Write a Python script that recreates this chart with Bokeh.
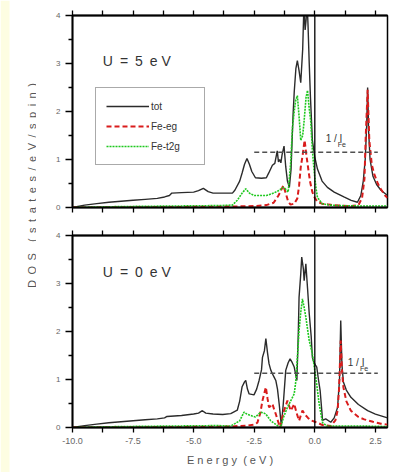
from math import pi
from bokeh.plotting import figure
from bokeh.models import (Range1d, FixedTicker, LinearAxis, Label, Legend, LegendItem,
                          NumeralTickFormatter, Span, BoxAnnotation)
from bokeh.layouts import row, column
from bokeh.embed import file_html
from bokeh.resources import INLINE

FONT = "Liberation Sans"
NB = "\u00a0"
EN = "\u2002"

# ---------------- data ----------------
x_major_ticks = [-10.0, -7.5, -5.0, -2.5, 0.0, 2.5]
x_minor_ticks = [-8.75, -6.25, -3.75, -1.25, 1.25]
y_major_ticks = [0, 1, 2, 3, 4]
y_minor_ticks = [0.5, 1.5, 2.5, 3.5]

fermi_level = 0.0

# U = 5 eV panel
u5_tot_e = [-10, -9.5, -9, -8.5, -8, -7.5, -7, -6.5, -6.2, -6.0, -5.9, -5.5, -5.0, -4.8, -4.6,
            -4.4, -4.2, -3.8, -3.4, -3.3, -3.1, -3.0, -2.9, -2.8, -2.7, -2.6, -2.45, -2.2, -2.0,
            -1.9, -1.75, -1.65, -1.55, -1.5, -1.45, -1.4, -1.35, -1.27, -1.2, -1.13, -1.05,
            -0.98, -0.9, -0.85, -0.78, -0.72, -0.65, -0.58, -0.5, -0.45, -0.4, -0.36, -0.32,
            -0.28, -0.23, -0.18, -0.1, 0.0, 0.11, 0.3, 0.52, 0.8, 1.2, 1.5, 1.76, 1.9, 2.0,
            2.08, 2.14, 2.18, 2.22, 2.28, 2.4, 2.55, 2.73, 3.0]
u5_tot_d = [0.0, 0.05, 0.08, 0.11, 0.13, 0.15, 0.17, 0.19, 0.22, 0.25, 0.30, 0.31, 0.32, 0.35,
            0.40, 0.33, 0.30, 0.30, 0.30, 0.36, 0.55, 0.72, 0.90, 1.02, 0.90, 0.75, 0.62, 0.61,
            0.62, 0.72, 0.88, 0.92, 1.18, 0.95, 1.0, 0.93, 1.1, 1.28, 0.85, 0.55, 0.42, 0.80,
            1.9, 2.4, 2.9, 3.06, 2.85, 2.6, 3.3, 4.2, 3.7, 3.9, 4.3, 3.8, 3.0, 2.3, 1.4, 1.05,
            0.8, 0.55, 0.42, 0.32, 0.22, 0.15, 0.11, 0.25, 0.55, 1.0, 1.7, 2.5, 1.6, 1.0, 0.65,
            0.48, 0.36, 0.25]

u5_eg_e = [-10, -6, -3.4, -2.5, -2.0, -1.7, -1.5, -1.4, -1.3, -1.2, -1.1, -1.0, -0.85, -0.72,
           -0.65, -0.58, -0.5, -0.42, -0.35, -0.28, -0.2, -0.1, 0.0, 0.11, 0.3, 0.6, 1.0, 1.5,
           1.8, 1.95, 2.05, 2.1, 2.18, 2.25, 2.35, 2.45, 2.6, 2.73, 2.9, 3.0]
u5_eg_d = [0.0, 0.01, 0.02, 0.03, 0.05, 0.1, 0.25, 0.35, 0.46, 0.3, 0.12, 0.06, 0.08, 0.19,
           0.45, 0.84, 1.1, 1.40, 1.1, 0.84, 0.55, 0.32, 0.2, 0.12, 0.08, 0.06, 0.04, 0.03,
           0.05, 0.2, 0.6, 1.46, 2.45, 1.4, 0.9, 0.70, 0.5, 0.38, 0.25, 0.2]

u5_t2g_e = [-10, -8, -6, -4, -3.4, -3.2, -3.0, -2.85, -2.7, -2.5, -2.0, -1.7, -1.5, -1.3, -1.2,
            -1.1, -1.0, -0.92, -0.85, -0.79, -0.72, -0.65, -0.58, -0.5, -0.44, -0.36, -0.3,
            -0.24, -0.17, -0.1, -0.03, 0.05, 0.11, 0.3, 0.6, 1.0, 2.0, 3.0]
u5_t2g_d = [0.0, 0.02, 0.03, 0.04, 0.05, 0.15, 0.30, 0.39, 0.30, 0.25, 0.25, 0.3, 0.35, 0.42,
            0.38, 0.32, 0.9, 1.67, 2.0, 2.23, 2.33, 1.9, 1.40, 1.5, 1.81, 2.3, 2.44, 2.1, 1.81,
            1.2, 0.77, 0.4, 0.21, 0.08, 0.05, 0.04, 0.03, 0.03]

# U = 0 eV panel
u0_tot_e = [-10, -9.5, -9, -8.5, -8, -7.5, -7, -6.5, -6.2, -6.1, -5.5, -5.0, -4.8, -4.64, -4.5,
            -4.2, -3.8, -3.47, -3.2, -3.1, -3.0, -2.9, -2.85, -2.78, -2.71, -2.51, -2.4, -2.3,
            -2.2, -2.16, -2.08, -2.02, -1.95, -1.89, -1.82, -1.75, -1.68, -1.61, -1.54, -1.47,
            -1.38, -1.3, -1.2, -1.1, -1.02, -0.93, -0.85, -0.74, -0.68, -0.65, -0.58, -0.54,
            -0.47, -0.44, -0.4, -0.37, -0.3, -0.23, -0.15, -0.1, -0.03, 0.03, 0.08, 0.15, 0.22,
            0.32, 0.45, 0.66, 0.8, 0.94, 1.02, 1.07, 1.12, 1.18, 1.3, 1.49, 1.8, 2.18, 2.5, 3.0]
u0_tot_d = [0.0, 0.04, 0.07, 0.10, 0.12, 0.14, 0.16, 0.18, 0.20, 0.23, 0.25, 0.28, 0.30, 0.35,
            0.30, 0.28, 0.27, 0.29, 0.36, 0.55, 0.85, 0.95, 0.98, 0.80, 0.70, 0.68, 0.80, 0.98,
            1.2, 1.46, 1.6, 1.85, 1.55, 1.33, 1.2, 1.12, 1.05, 0.98, 0.8, 0.49, 0.03, 0.5, 1.19,
            1.35, 1.43, 1.35, 1.26, 0.98, 2.0, 2.71, 3.2, 3.55, 3.3, 3.06, 3.25, 3.41, 2.9, 2.37,
            1.9, 1.46, 1.35, 1.3, 1.26, 1.0, 0.77, 0.15, 0.18, 0.11, 0.2, 0.42, 1.0, 2.23, 1.3,
            0.95, 0.78, 0.63, 0.48, 0.35, 0.28, 0.2]

u0_eg_e = [-10, -6, -3.5, -2.8, -2.5, -2.37, -2.25, -2.16, -2.02, -1.95, -1.89, -1.82, -1.75,
           -1.68, -1.61, -1.5, -1.43, -1.35, -1.27, -1.2, -1.13, -1.06, -0.99, -0.92, -0.85,
           -0.75, -0.65, -0.58, -0.51, -0.44, -0.37, -0.28, -0.17, 0.0, 0.11, 0.32, 0.66, 0.85,
           0.94, 1.0, 1.07, 1.12, 1.18, 1.3, 1.49, 1.8, 2.04, 2.4, 2.73, 3.0]
u0_eg_d = [0.0, 0.01, 0.02, 0.04, 0.06, 0.1, 0.3, 0.56, 0.84, 0.6, 0.42, 0.45, 0.49, 0.38, 0.28,
           0.1, 0.0, 0.2, 0.35, 0.45, 0.56, 0.45, 0.35, 0.42, 0.49, 0.3, 0.14, 0.25, 0.35, 0.3,
           0.25, 0.2, 0.15, 0.12, 0.1, 0.05, 0.03, 0.15, 0.35, 0.8, 1.81, 1.2, 0.84, 0.55, 0.35,
           0.22, 0.17, 0.12, 0.08, 0.06]

u0_t2g_e = [-10, -8, -6, -4, -3.47, -3.3, -3.1, -2.92, -2.8, -2.65, -2.45, -2.23, -2.1, -2.02,
            -1.82, -1.6, -1.41, -1.3, -1.13, -0.99, -0.85, -0.78, -0.7, -0.65, -0.58, -0.51,
            -0.44, -0.37, -0.3, -0.23, -0.1, 0.04, 0.18, 0.32, 0.5, 1.0, 2.0, 3.0]
u0_t2g_d = [0.0, 0.02, 0.03, 0.04, 0.03, 0.08, 0.14, 0.32, 0.28, 0.25, 0.22, 0.32, 0.3, 0.28,
            0.14, 0.06, 0.0, 0.2, 0.42, 0.56, 0.7, 0.98, 1.6, 2.02, 2.4, 2.68, 2.5, 2.3, 2.05,
            1.81, 1.53, 1.05, 0.49, 0.1, 0.03, 0.03, 0.03, 0.02]

stoner_span = [-2.5, 2.6]
stoner_u5 = 1.15
stoner_u0 = 1.13

panel_titles = ["U" + EN + "=" + EN + "5" + EN + "e" + NB + "V",
                "U" + EN + "=" + EN + "0" + EN + "e" + NB + "V"]
legend_labels = ["tot", "Fe-eg", "Fe-t2g"]
x_title = NB.join("Energy") + NB + NB + NB.join("(eV)")
y_title = EN.join("DOS") + EN + EN + EN.join("(states/eV/spin)")

TOT_COLOR = "#2b2b2b"
EG_COLOR = "#d91c1c"
T2G_COLOR = "#1ec81e"


def make_panel(title, tot_e, tot_d, eg_e, eg_d, t2_e, t2_d, stoner, title_y, st_x, st_y,
               height, mb_top, mb_bottom, bottom_labels, with_legend):
    p = figure(width=358, height=height, x_range=Range1d(-10, 3), y_range=Range1d(0, 4),
               output_backend="svg", toolbar_location=None,
               min_border_left=36, min_border_right=7,
               min_border_top=mb_top, min_border_bottom=mb_bottom)
    p.grid.visible = False
    p.outline_line_color = "black"
    p.outline_line_width = 1.5
    p.background_fill_color = "white"
    p.border_fill_color = "white"

    xa = p.xaxis[0]
    if bottom_labels:
        xa.ticker = FixedTicker(ticks=x_major_ticks, minor_ticks=x_minor_ticks)
    else:
        xa.ticker = FixedTicker(ticks=[], minor_ticks=x_major_ticks + x_minor_ticks)
    xa.formatter = NumeralTickFormatter(format="0.0")
    xa.major_tick_out = 5
    xa.major_tick_in = 0
    xa.minor_tick_out = 5
    xa.minor_tick_in = 0
    xa.axis_line_width = 1.8
    xa.major_tick_line_width = 1.3
    xa.minor_tick_line_width = 1.3
    xa.major_label_text_font = FONT
    xa.major_label_text_color = "#666666"
    xa.major_label_text_font_size = "9px"
    xa.major_label_standoff = 5
    if bottom_labels:
        xa.axis_label = x_title
        xa.axis_label_text_font = FONT
        xa.axis_label_text_font_size = "11px"
        xa.axis_label_text_font_style = "normal"
        xa.axis_label_text_color = "#555555"
        xa.axis_label_standoff = 7

    top_ax = LinearAxis(ticker=FixedTicker(ticks=[], minor_ticks=x_major_ticks + x_minor_ticks),
                        minor_tick_out=5, minor_tick_in=0, axis_line_width=2.2,
                        minor_tick_line_width=1.3)
    p.add_layout(top_ax, "above")

    ya = p.yaxis[0]
    ya.ticker = FixedTicker(ticks=y_major_ticks, minor_ticks=y_minor_ticks)
    ya.major_tick_out = 7
    ya.major_tick_in = 0
    ya.minor_tick_out = 4
    ya.minor_tick_in = 0
    ya.axis_line_width = 1.8
    ya.major_tick_line_width = 1.5
    ya.minor_tick_line_width = 1.5
    ya.major_label_text_font = FONT
    ya.major_label_text_font_size = "8px"
    ya.major_label_text_color = "#666666"
    ya.major_label_standoff = 5

    p.add_layout(Span(location=fermi_level, dimension="height", line_color="black",
                      line_width=1.3))

    r_tot = p.line(tot_e, tot_d, line_color=TOT_COLOR, line_width=1.4)
    r_eg = p.line(eg_e, eg_d, line_color=EG_COLOR, line_width=2.0, line_dash="5 3")
    r_t2 = p.line(t2_e, t2_d, line_color=T2G_COLOR, line_width=1.6, line_dash="2 1")

    p.segment(x0=[stoner_span[0]], y0=[stoner], x1=[stoner_span[1]], y1=[stoner],
              line_color="#505050", line_width=1.6, line_dash="5 3")

    p.add_layout(Label(x=-8.75, y=title_y, text=title, text_font=FONT,
                       text_font_size="14px", text_color="#333333",
                       text_baseline="middle", text_align="left"))
    p.add_layout(Label(x=st_x, y=st_y, text="1 / I", text_font=FONT,
                       text_font_size="10px", text_color="#333333",
                       text_baseline="middle", text_align="left"))
    p.add_layout(Label(x=st_x + 0.5, y=st_y - 0.13, text="Fe", text_font=FONT,
                       text_font_size="7px", text_color="#333333",
                       text_baseline="middle", text_align="left"))

    if with_legend:
        leg = Legend(items=[LegendItem(label=legend_labels[0], renderers=[r_tot]),
                            LegendItem(label=legend_labels[1], renderers=[r_eg]),
                            LegendItem(label=legend_labels[2], renderers=[r_t2])],
                     location=(23, 42), glyph_width=43, glyph_height=16, label_height=16,
                     label_width=43, spacing=4, padding=10, label_standoff=2, margin=0,
                     label_text_font=FONT, label_text_font_size="10px",
                     label_text_color="#333333", border_line_color="#555555",
                     border_line_width=1.6, background_fill_color="white",
                     background_fill_alpha=1.0)
        p.add_layout(leg, "center")
    return p


top = make_panel(panel_titles[0], u5_tot_e, u5_tot_d, u5_eg_e, u5_eg_d, u5_t2g_e, u5_t2g_d,
                 stoner_u5, 3.06, 0.45, 1.44, height=221, mb_top=15, mb_bottom=14,
                 bottom_labels=False, with_legend=True)
bottom = make_panel(panel_titles[1], u0_tot_e, u0_tot_d, u0_eg_e, u0_eg_d, u0_t2g_e, u0_t2g_d,
                    stoner_u0, 3.24, 1.36, 1.36, height=251, mb_top=14, mb_bottom=45,
                    bottom_labels=True, with_legend=False)

lab = figure(width=36, height=472, x_range=Range1d(0, 1), y_range=Range1d(0, 1),
             output_backend="svg", toolbar_location=None, min_border=0)
lab.axis.visible = False
lab.grid.visible = False
lab.outline_line_color = None
lab.background_fill_color = "white"
lab.border_fill_color = "white"
lab.add_layout(BoxAnnotation(left=0, right=9, left_units="screen", right_units="screen",
                             fill_color="#fdfde2", fill_alpha=1.0, line_color=None))
lab.add_layout(Label(x=31, y=287, x_units="screen", y_units="screen",
                     text=y_title, angle=pi / 2, text_align="center",
                     text_baseline="middle", text_font=FONT, text_font_size="11px",
                     text_color="#555555"))

layout = row(lab, column(top, bottom, spacing=0), spacing=0)

open("out.html", "w").write(file_html(layout, INLINE))
